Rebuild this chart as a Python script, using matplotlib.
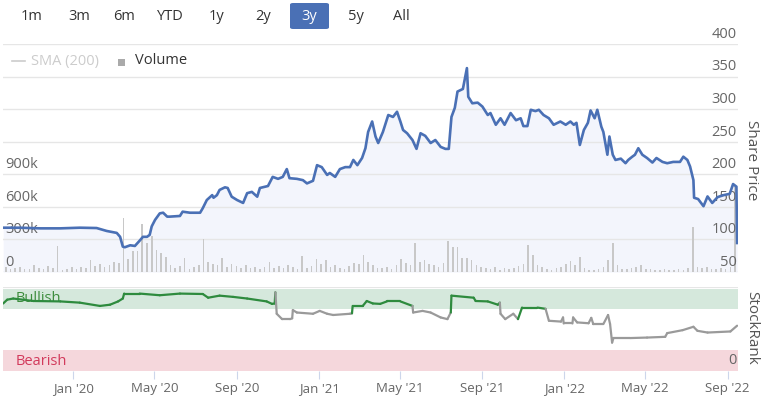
import matplotlib
matplotlib.use("Agg")
import matplotlib.pyplot as plt
import matplotlib.dates as mdates
import numpy as np
import pandas as pd
from matplotlib.collections import LineCollection
from matplotlib.patches import FancyBboxPatch, Rectangle
from matplotlib.lines import Line2D

plt.rcParams['font.family'] = ['Open Sans', 'DejaVu Sans']

# ---------------- data ----------------
buttons = ["1m", "3m", "6m", "YTD", "1y", "2y", "3y", "5y", "All"]
active_button = "3y"

price_dates = [
    "2019-09-19", "2019-10-14", "2019-11-13", "2019-12-13", "2020-01-11", "2020-02-05",
    "2020-02-20", "2020-03-06", "2020-03-11", "2020-03-15", "2020-03-18", "2020-03-26",
    "2020-04-02", "2020-04-09", "2020-04-14", "2020-04-20", "2020-04-24", "2020-04-27",
    "2020-05-02", "2020-05-09", "2020-05-14", "2020-05-20", "2020-05-24", "2020-06-08",
    "2020-06-12", "2020-06-23", "2020-07-08", "2020-07-12", "2020-07-18", "2020-07-26",
    "2020-07-28", "2020-08-02", "2020-08-06", "2020-08-14", "2020-08-18", "2020-08-24",
    "2020-09-01", "2020-09-10", "2020-09-16", "2020-09-23", "2020-10-01", "2020-10-05",
    "2020-10-17", "2020-10-24", "2020-11-01", "2020-11-08", "2020-11-14", "2020-11-18",
    "2020-11-29", "2020-12-08", "2020-12-14", "2020-12-23", "2020-12-29", "2021-01-05",
    "2021-01-13", "2021-01-17", "2021-01-25", "2021-02-01", "2021-02-09", "2021-02-16",
    "2021-02-21", "2021-02-27", "2021-03-06", "2021-03-11", "2021-03-15", "2021-03-21",
    "2021-03-26", "2021-03-30", "2021-04-06", "2021-04-14", "2021-04-21", "2021-04-27",
    "2021-05-02", "2021-05-06", "2021-05-12", "2021-05-20", "2021-05-26", "2021-06-01",
    "2021-06-08", "2021-06-16", "2021-06-23", "2021-07-01", "2021-07-08", "2021-07-13",
    "2021-07-17", "2021-07-22", "2021-07-26", "2021-08-03", "2021-08-09", "2021-08-11",
    "2021-08-17", "2021-08-25", "2021-09-01", "2021-09-09", "2021-09-13", "2021-09-21",
    "2021-09-28", "2021-10-04", "2021-10-10", "2021-10-13", "2021-10-21", "2021-10-28",
    "2021-11-01", "2021-11-07", "2021-11-12", "2021-11-19", "2021-11-24", "2021-12-01",
    "2021-12-09", "2021-12-16", "2021-12-26", "2022-01-03", "2022-01-10", "2022-01-15",
    "2022-01-19", "2022-01-24", "2022-01-30", "2022-02-05", "2022-02-09", "2022-02-15",
    "2022-02-19", "2022-02-25", "2022-02-28", "2022-03-06", "2022-03-09", "2022-03-14",
    "2022-03-18", "2022-03-26", "2022-04-02", "2022-04-06", "2022-04-12", "2022-04-16",
    "2022-04-21", "2022-04-27", "2022-05-04", "2022-05-12", "2022-05-18", "2022-05-27",
    "2022-06-03", "2022-06-12", "2022-06-22", "2022-06-27", "2022-07-03", "2022-07-07",
    "2022-07-12", "2022-07-13", "2022-07-19", "2022-07-27", "2022-08-02", "2022-08-09",
    "2022-08-17", "2022-08-26", "2022-09-04", "2022-09-09", "2022-09-14", "2022-09-15",
]
price_values = [
    118, 118, 117, 117, 118, 117.5,
    113, 110, 104, 89, 88, 91,
    90, 98, 104, 104, 107, 120,
    130, 140, 141, 135, 135, 136,
    142.6, 141, 141, 148, 160.5, 168,
    164, 168, 176, 180, 179, 165.6,
    160.5, 156, 171, 173, 165.6, 179,
    182, 196, 193, 196, 208, 194,
    193, 191, 186, 190, 214, 211,
    199, 202, 196, 208, 211, 211,
    222, 214, 225, 240, 265, 281,
    258, 248, 265, 291, 288, 296,
    281, 268, 263, 252.6, 239, 263,
    259, 248, 252.6, 242, 239, 239,
    288, 302, 327, 331, 363, 319,
    309, 310, 304, 291, 294, 276,
    286, 276, 288, 294, 283, 286,
    274, 274, 299, 297, 299, 291,
    286, 276, 281, 276, 281, 276,
    279, 245, 268, 279, 298, 286,
    299, 273, 265, 230, 258, 230,
    222, 224, 217, 222, 227, 230,
    240, 230, 225, 218, 225, 219,
    217, 219, 219, 227, 222, 212,
    191, 164, 162, 151, 166, 156,
    165, 168, 170, 185, 181, 94.5,
]

# weekly volume (thousands of shares), weeks starting 2019-09-16
volume_start = "2019-09-16"
volume_k = [
    30, 45, 25, 35, 50, 30, 25, 60, 40, 30, 55, 35, 240, 20, 30, 45, 25, 50, 40, 110,
    55, 70, 45, 60, 90, 80, 497, 120, 190, 196, 442, 267, 331, 202, 175, 141, 64, 40, 55, 129,
    30, 45, 60, 300, 95, 70, 60, 129, 45, 70, 55, 40, 60, 35, 50, 30, 45, 92, 40, 55,
    35, 60, 45, 30, 150, 40, 55, 120, 70, 110, 45, 60, 40, 30, 55, 85, 70, 156, 90, 60,
    40, 35, 50, 30, 60, 120, 80, 60, 270, 90, 110, 70, 60, 45, 86, 288, 233, 230, 129, 129,
    110, 60, 50, 40, 30, 45, 20, 35, 25, 40, 55, 70, 248, 156, 60, 45, 30, 20, 35, 50,
    70, 104, 60, 138, 40, 20, 15, 30, 45, 110, 270, 64, 30, 25, 35, 45, 60, 25, 30, 20,
    15, 25, 15, 20, 30, 20, 40, 417, 45, 35, 50, 25, 30, 40, 30, 45, 780,
]

rank_dates = [
    "2019-09-19", "2019-09-25", "2019-10-04", "2019-11-03", "2019-12-13", "2020-01-11",
    "2020-02-10", "2020-02-25", "2020-03-08", "2020-03-15", "2020-03-17", "2020-04-09",
    "2020-05-09", "2020-06-08", "2020-07-12", "2020-07-20", "2020-08-06", "2020-08-26",
    "2020-09-16", "2020-10-15", "2020-10-23", "2020-10-27", "2020-10-28", "2020-10-30",
    "2020-11-07", "2020-11-19", "2020-11-22", "2020-11-23", "2020-11-29", "2020-12-23",
    "2021-01-02", "2021-01-13", "2021-01-22", "2021-02-16", "2021-02-19", "2021-02-20",
    "2021-03-07", "2021-03-13", "2021-03-22", "2021-04-02", "2021-04-12", "2021-05-02",
    "2021-05-20", "2021-05-21", "2021-06-04", "2021-06-16", "2021-07-01", "2021-07-11",
    "2021-07-16", "2021-07-17", "2021-08-19", "2021-08-22", "2021-09-09", "2021-09-24",
    "2021-09-27", "2021-09-28", "2021-10-05", "2021-10-17", "2021-10-24", "2021-10-30",
    "2021-11-12", "2021-11-22", "2021-12-04", "2021-12-09", "2021-12-27", "2021-12-30",
    "2021-12-31", "2022-01-13", "2022-01-14", "2022-01-20", "2022-02-06", "2022-02-10",
    "2022-02-13", "2022-02-28", "2022-03-07", "2022-03-10", "2022-03-13", "2022-03-15",
    "2022-04-09", "2022-05-04", "2022-05-31", "2022-06-03", "2022-06-26", "2022-07-12",
    "2022-07-18", "2022-08-02", "2022-09-05", "2022-09-15",
]
rank_values = [
    82, 86.6, 88, 85, 84.5, 83,
    79, 80.5, 84.5, 88, 94, 94,
    92, 94, 93.5, 89, 91.5, 90,
    88, 84.5, 81.5, 82, 95.5, 69.5,
    63, 63, 64, 74, 71, 69.5,
    73, 69.5, 68, 69.5, 70, 79,
    79, 85, 82, 81.5, 84.5, 84.5,
    79, 71, 73, 71, 65, 63,
    71, 91.5, 89, 85, 84.5, 80.5,
    83, 69.5, 63, 69.5, 63, 77,
    77, 77, 75.5, 61, 60, 65,
    57.7, 57.7, 65, 59, 58, 64.5,
    57, 57, 68, 57, 34.5, 40,
    40, 40.6, 41.5, 46, 49.6, 53.7,
    48.8, 46.7, 48, 55,
]
# B = bullish (green) style, N = neutral (grey) style
rank_style = (
    "BBBBBB" "BBBBBB" "BBBBBB" "BBBBBN"
    "NNNNNN" "NNNNNB" "BBBBBB" "BNNNNN"
    "NBBBBB" "BNNNNB" "BBBNNN" "NNNNNN"
    "NNNNNN" "NNNNNN" "NNNN"
)

month_ticks = ["2020-01-01", "2020-05-01", "2020-09-01", "2021-01-01", "2021-05-01",
               "2021-09-01", "2022-01-01", "2022-05-01", "2022-09-01"]
month_labels = ["Jan '20", "May '20", "Sep '20", "Jan '21", "May '21",
                "Sep '21", "Jan '22", "May '22", "Sep '22"]

price_ticks = [50, 100, 150, 200, 250, 300, 350, 400]
volume_ticks = [0, 300, 600, 900]
volume_tick_labels = ["0", "300k", "600k", "900k"]

# ---------------- figure ----------------
W, H = 761, 396
fig = plt.figure(figsize=(W / 100, H / 100), dpi=100)
fig.patch.set_facecolor("white")


def rect(x0, y0, x1, y1):
    return [x0 / W, 1 - y1 / H, (x1 - x0) / W, (y1 - y0) / H]


pd_price_dates = pd.to_datetime(price_dates)
pd_rank_dates = pd.to_datetime(rank_dates)
vol_dates = pd.date_range(volume_start, periods=len(volume_k), freq="7D")
xlim = (pd.Timestamp("2019-09-18 18:00"), pd.Timestamp("2022-09-16 08:00"))

grid_c = "#e6e6e6"
label_c = "#666666"
blue = "#4a70b5"
FS = 10.5

# price background axes (fill + grid)
ax_bg = fig.add_axes(rect(3, 44, 738, 272))
ax_bg.set_xlim(xlim)
ax_bg.set_ylim(50, 400)
ax_bg.fill_between(pd_price_dates, price_values, 50, color="#f3f5fc", lw=0, zorder=1)
for t in price_ticks:
    ax_bg.axhline(t, color=grid_c, lw=1.0, zorder=2)
ax_bg.axis("off")

# volume axes
ax_v = fig.add_axes(rect(3, 44, 738, 272))
ax_v.patch.set_alpha(0)
ax_v.set_xlim(xlim)
ax_v.set_ylim(0, 2100)
ax_v.bar(vol_dates, volume_k, width=2.4, color="#c8c8c8", lw=0)
ax_v.axis("off")
for t, lab in zip(volume_ticks, volume_tick_labels):
    ax_v.annotate(lab, xy=(0, t), xycoords=("axes fraction", "data"),
                  xytext=(1.5, 1.5), textcoords="offset points",
                  ha="left", va="bottom", fontsize=FS, color=label_c)

# price line axes
ax_p = fig.add_axes(rect(3, 44, 738, 272))
ax_p.patch.set_alpha(0)
ax_p.set_xlim(xlim)
ax_p.set_ylim(50, 400)
ax_p.plot(pd_price_dates, price_values, color=blue, lw=1.9, solid_joinstyle="round", zorder=5)
ax_p.axis("off")
for t in price_ticks:
    ax_p.annotate(str(t), xy=(1, t), xycoords=("axes fraction", "data"),
                  xytext=(-1, 1.5), textcoords="offset points",
                  ha="right", va="bottom", fontsize=FS, color=label_c)

# rank axes
ax_r = fig.add_axes(rect(3, 287, 738, 371))
ax_r.set_xlim(xlim)
ax_r.set_ylim(0, 102)
ax_r.axhspan(75, 100, color="#d5e8dc", lw=0, zorder=0)
ax_r.axhspan(0, 25, color="#f5d7dc", lw=0, zorder=0)
ax_r.axhline(102, color=grid_c, lw=1.5, zorder=1)
xs = mdates.date2num(pd_rank_dates)
pts = np.column_stack([xs, rank_values])
segs = np.stack([pts[:-1], pts[1:]], axis=1)
cols = ["#2e8b3e" if s == "B" else "#9a9a9a" for s in rank_style[1:]]
lc = LineCollection(segs, colors=cols, linewidths=1.6, capstyle="round", joinstyle="round", zorder=3)
ax_r.add_collection(lc)
for sp in ax_r.spines.values():
    sp.set_visible(False)
ax_r.set_yticks([])
ax_r.set_xticks(pd.to_datetime(month_ticks))
ax_r.set_xticklabels(month_labels)
ax_r.tick_params(axis="x", length=5.5, width=0.8, color="#ccd6eb", labelsize=9.5,
                 labelcolor=label_c, pad=2.5)
ax_r.text(0.017, 88, "Bullish", transform=ax_r.get_yaxis_transform(), fontsize=FS,
          color="#3c8c3c", va="center", ha="left", zorder=2)
ax_r.text(0.017, 11, "Bearish", transform=ax_r.get_yaxis_transform(), fontsize=FS,
          color="#d23a5c", va="center", ha="left", zorder=2)
ax_r.annotate("0", xy=(1, 0), xycoords=("axes fraction", "data"),
              xytext=(-1, 2), textcoords="offset points",
              ha="right", va="bottom", fontsize=FS, color=label_c)

# right side titles
fig.text(752 / W, 1 - 160 / H, "Share Price", rotation=270, ha="center", va="center",
         fontsize=11, color="#555555")
fig.text(752 / W, 1 - 328 / H, "StockRank", rotation=270, ha="center", va="center",
         fontsize=11, color="#555555")

# range buttons
btn_x = [32, 79, 124, 170, 217, 263, 309, 356, 401]
for bx, b in zip(btn_x, buttons):
    if b == active_button:
        fig.add_artist(FancyBboxPatch((290 / W, 1 - 29 / H), 39 / W, 26 / H,
                                      boxstyle="round,pad=0,rounding_size=0.004",
                                      transform=fig.transFigure, fc="#4a70b5", ec="none"))
        fig.text(bx / W, 1 - 16 / H, b, ha="center", va="center", fontsize=FS, color="white")
    else:
        fig.text(bx / W, 1 - 16 / H, b, ha="center", va="center", fontsize=FS, color="#333333")

# legend
fig.add_artist(Line2D([12 / W, 25 / W], [1 - 61 / H, 1 - 61 / H], color="#cccccc", lw=1.2,
                      transform=fig.transFigure))
fig.text(31 / W, 1 - 61 / H, "SMA (200)", ha="left", va="center", fontsize=FS, color="#cccccc")
fig.add_artist(Rectangle((118 / W, 1 - 66 / H), 7 / W, 7 / H, transform=fig.transFigure,
                         fc="#aaaaaa", ec="none"))
fig.text(135 / W, 1 - 61 / H, "Volume", ha="left", va="center", fontsize=FS, color="#333333")

fig.savefig("out.png", dpi=100)
